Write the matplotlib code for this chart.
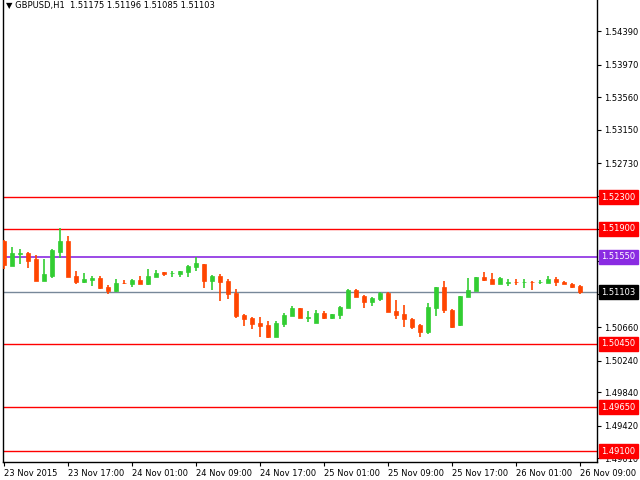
import matplotlib

matplotlib.use("Agg")
import matplotlib.pyplot as plt
from matplotlib.patches import Rectangle

# hourly GBPUSD candles, 23 Nov 2015 09:00 onwards
opens = [1.51753, 1.51438, 1.51589, 1.51593, 1.51522, 1.51248, 1.51312, 1.51614, 1.51748, 1.51307,
         1.51236, 1.51261, 1.51282, 1.51169, 1.51123, 1.51223, 1.51211, 1.51257, 1.51211, 1.51299,
         1.51354, 1.51341, 1.51337, 1.51362, 1.51425, 1.51459, 1.51248, 1.51307, 1.51244, 1.51093,
         1.50816, 1.50778, 1.50715, 1.50690, 1.50543, 1.50707, 1.50807, 1.50904, 1.50782, 1.50719,
         1.50841, 1.50782, 1.50816, 1.50908, 1.51131, 1.51055, 1.50984, 1.51018, 1.51093, 1.50866,
         1.50829, 1.50765, 1.50686, 1.50606, 1.50908, 1.51169, 1.50879, 1.50686, 1.51043, 1.51123,
         1.51295, 1.51269, 1.51202, 1.51215, 1.51232, 1.51228, 1.51236, 1.51232, 1.51223, 1.51274,
         1.51236, 1.51206, 1.51175]
highs = [1.51761, 1.51669, 1.51643, 1.51610, 1.51572, 1.51522, 1.51648, 1.51912, 1.51811, 1.51370,
         1.51345, 1.51307, 1.51307, 1.51194, 1.51269, 1.51253, 1.51269, 1.51307, 1.51396, 1.51383,
         1.51362, 1.51375, 1.51370, 1.51450, 1.51551, 1.51459, 1.51320, 1.51333, 1.51269, 1.51144,
         1.50833, 1.50787, 1.50791, 1.50740, 1.50740, 1.50841, 1.50929, 1.50904, 1.50866, 1.50879,
         1.50866, 1.50833, 1.50925, 1.51144, 1.51144, 1.51072, 1.51039, 1.51102, 1.51102, 1.51005,
         1.50942, 1.50782, 1.50702, 1.50967, 1.51169, 1.51244, 1.50887, 1.51059, 1.51278, 1.51299,
         1.51354, 1.51345, 1.51290, 1.51269, 1.51269, 1.51274, 1.51244, 1.51257, 1.51307, 1.51290,
         1.51244, 1.51223, 1.51196]
lows = [1.51400, 1.51438, 1.51455, 1.51412, 1.51248, 1.51248, 1.51286, 1.51530, 1.51299, 1.51211,
        1.51223, 1.51185, 1.51148, 1.51085, 1.51106, 1.51211, 1.51173, 1.51202, 1.51198, 1.51299,
        1.51312, 1.51299, 1.51299, 1.51299, 1.51375, 1.51160, 1.51135, 1.50997, 1.51022, 1.50782,
        1.50681, 1.50644, 1.50543, 1.50531, 1.50543, 1.50669, 1.50807, 1.50782, 1.50732, 1.50719,
        1.50770, 1.50770, 1.50765, 1.50908, 1.51039, 1.50908, 1.50934, 1.50993, 1.50858, 1.50770,
        1.50669, 1.50635, 1.50543, 1.50581, 1.50807, 1.50845, 1.50656, 1.50673, 1.51039, 1.51123,
        1.51244, 1.51202, 1.51202, 1.51185, 1.51190, 1.51152, 1.51135, 1.51211, 1.51223, 1.51181,
        1.51202, 1.51156, 1.51085]
closes = [1.51446, 1.51593, 1.51597, 1.51501, 1.51248, 1.51333, 1.51635, 1.51748, 1.51299, 1.51236,
          1.51269, 1.51282, 1.51160, 1.51123, 1.51219, 1.51215, 1.51257, 1.51211, 1.51307, 1.51345,
          1.51337, 1.51349, 1.51370, 1.51433, 1.51471, 1.51248, 1.51307, 1.51236, 1.51085, 1.50807,
          1.50770, 1.50707, 1.50681, 1.50543, 1.50715, 1.50816, 1.50904, 1.50782, 1.50791, 1.50841,
          1.50782, 1.50824, 1.50917, 1.51135, 1.51047, 1.50980, 1.51030, 1.51093, 1.50858, 1.50816,
          1.50761, 1.50669, 1.50606, 1.50913, 1.51169, 1.50875, 1.50669, 1.51055, 1.51135, 1.51299,
          1.51257, 1.51202, 1.51282, 1.51236, 1.51228, 1.51232, 1.51232, 1.51236, 1.51269, 1.51228,
          1.51202, 1.51165, 1.51103]

time_labels = ["23 Nov 2015", "23 Nov 17:00", "24 Nov 01:00", "24 Nov 09:00", "24 Nov 17:00",
               "25 Nov 01:00", "25 Nov 09:00", "25 Nov 17:00", "26 Nov 01:00", "26 Nov 09:00"]
price_ticks = [1.54390, 1.53970, 1.53560, 1.53150, 1.52730, 1.52320, 1.51900, 1.51490,
               1.51080, 1.50660, 1.50240, 1.49840, 1.49420, 1.49010]
red_levels = [1.52300, 1.51900, 1.50450, 1.49650, 1.49100]
purple_level = 1.51550
last_price = closes[-1]

UP, DOWN = "#32cd32", "#ff4500"
fs = 6

fig = plt.figure(figsize=(6.4, 4.8), dpi=100)
ax = fig.add_axes([3 / 640, 18 / 480, 594 / 640, 462 / 480])
ax.set_xlim(-0.125, 74.125)
ax.set_ylim(1.48962, 1.54787)

for i, (o, h, l, c) in enumerate(zip(opens, highs, lows, closes)):
    col = UP if c >= o else DOWN
    ax.plot([i, i], [l, h], color=col, lw=1.2, solid_capstyle="butt", zorder=3)
    bot, top = min(o, c), max(o, c)
    ax.add_patch(Rectangle((i - 0.3, bot), 0.6, max(top - bot, 0.00003),
                           facecolor=col, edgecolor=col, lw=0.5, zorder=4))

for lv in red_levels:
    ax.axhline(lv, color="red", lw=1, zorder=2)
ax.axhline(purple_level, color="#8a2be2", lw=1.2, zorder=2)
ax.axhline(last_price, color="#778899", lw=1, zorder=2)

ax.yaxis.tick_right()
ax.set_yticks(price_ticks)
ax.set_yticklabels([f"{p:.5f}" for p in price_ticks], fontsize=fs)
ax.tick_params(axis="y", length=3, pad=2, direction="out")
ax.set_xticks([i * 8 for i in range(len(time_labels))])
ax.set_xticklabels(time_labels, fontsize=fs, ha="left")
ax.tick_params(axis="x", length=3, pad=2)
ax.spines["top"].set_visible(False)
for s in ("left", "right", "bottom"):
    ax.spines[s].set_linewidth(1)

boxes = [(lv, "red", "white") for lv in red_levels] + [(purple_level, "#8a2be2", "white"),
                                                        (last_price, "black", "white")]
for lv, bg, fg in boxes:
    ax.annotate(f"{lv:.5f}", xy=(1, lv), xycoords=("axes fraction", "data"),
                xytext=(3, 0), textcoords="offset points", va="center", ha="left",
                fontsize=fs, color=fg, zorder=10, annotation_clip=False,
                bbox=dict(boxstyle="square,pad=0.3", fc=bg, ec=bg))

ax.text(0.005, 0.997, "\u25bc GBPUSD,H1  1.51175 1.51196 1.51085 1.51103",
        transform=ax.transAxes, fontsize=fs, va="top", ha="left")

fig.savefig("out.png", dpi=100)
